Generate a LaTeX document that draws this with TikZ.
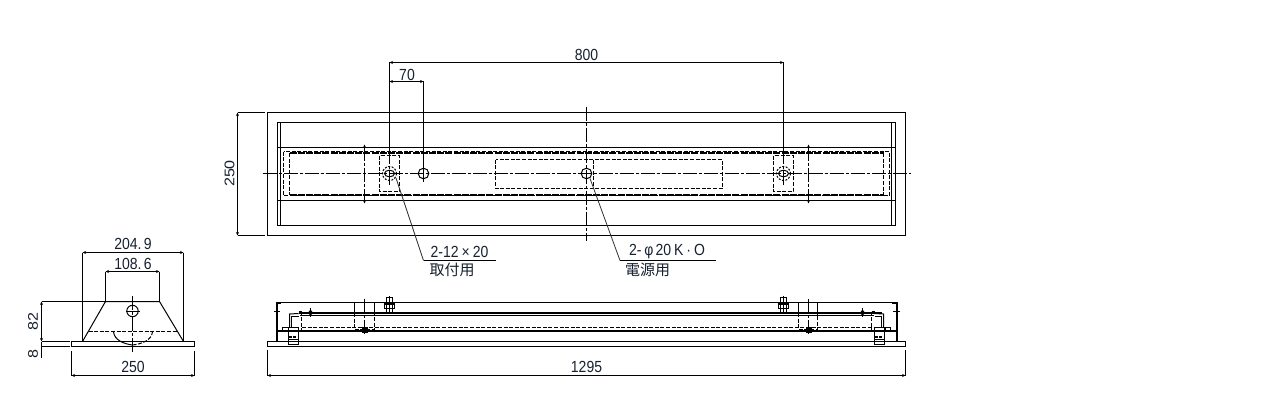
\documentclass[tikz,border=0pt]{standalone}
\usepackage{fontspec}
\setmainfont{Liberation Sans}
\newfontfamily\jpfont{Noto Sans CJK JP}
\usetikzlibrary{arrows.meta}
\definecolor{txtcol}{HTML}{16202E}
\tikzset{
  body/.style={line width=1pt},
  heavy/.style={line width=2pt},
  hidden/.style={line width=1pt,dash pattern=on 4pt off 1.6pt},
  heavyhidden/.style={line width=2pt,dash pattern=on 7pt off 1.2pt},
  center/.style={line width=1pt,dash pattern=on 14pt off 2pt on 3pt off 2pt},
  dim/.style={line width=1pt,{Stealth[length=3.5pt,width=3pt]}-{Stealth[length=3.5pt,width=3pt]}},
  ext/.style={line width=1pt},
  leader/.style={line width=0.8pt,black!80},
  label/.style={inner sep=0pt,text=txtcol,yscale=1.15,transform shape,font=\fontsize{14}{14}\selectfont},
  jplabel/.style={inner sep=0pt,text=txtcol,font=\jpfont\fontsize{15}{15}\selectfont},
}
\begin{document}
\begin{tikzpicture}[x=1pt,y=-1pt]
  \useasboundingbox (0,0) rectangle (1280,420);
  % plan view
  \draw[body] (267.5,112.5) rectangle (905.5,235.5);
  \draw[body] (277.5,122.5) rectangle (895.5,225.5);
  \draw[body] (280.5,122.5) -- (280.5,225.5);
  \draw[body] (891.5,122.5) -- (891.5,225.5);
  \draw[body] (277.5,147.5) -- (895.5,147.5);
  \draw[body] (277.5,200.5) -- (895.5,200.5);
  \draw[heavyhidden] (289.5,153) -- (883.5,153);
  \draw[heavyhidden] (289.5,195) -- (883.5,195);
  \draw[hidden] (283.5,151.5) rectangle (889.5,195.5);
  \draw[hidden] (289.5,153) -- (289.5,195);
  \draw[hidden] (883.5,153) -- (883.5,195);
  \draw[hidden] (495.5,159.5) rectangle (722.5,188.5);
  \draw[hidden] (593.5,159.5) -- (593.5,188.5);
  \draw[hidden] (379.5,155.5) rectangle (399.5,191.5);
  \draw[hidden] (773.5,155.5) rectangle (793.5,191.5);
  \draw[center] (262.5,173.5) -- (910.5,173.5);
  \draw[center] (586.5,106.5) -- (586.5,241);
  \draw[body] (423.5,173.5) circle (5.3);
  \draw[body] (586.5,173.5) circle (5.3);
  \draw[body] (389.5,173.5) ellipse (5 and 3.3);
  \draw[body] (783.5,173.5) ellipse (5 and 3.3);
  \draw[hidden,dash pattern=on 2pt off 1.5pt] (389.5,173.5) circle (7);
  \draw[hidden,dash pattern=on 2pt off 1.5pt] (783.5,173.5) circle (7);
  \draw[center,dim] (364.5,144.5) -- (364.5,203.5);
  \draw[center,dim] (808.5,144.5) -- (808.5,203.5);
  % plan view dimensions
  \draw[dim] (389.5,62.5) -- (783.5,62.5);
  \draw[ext] (389.5,62.5) -- (389.5,150);
  \draw[center] (389.5,150) -- (389.5,185);
  \draw[ext] (783.5,62.5) -- (783.5,150);
  \draw[center] (783.5,150) -- (783.5,185);
  \draw[dim] (389.5,81.5) -- (423.5,81.5);
  \draw[ext] (423.5,81.5) -- (423.5,181.5);
  \draw[dim] (237.5,112.5) -- (237.5,235.5);
  \draw[ext] (237.5,112.5) -- (264.5,112.5);
  \draw[ext] (237.5,235.5) -- (264.5,235.5);
  \node[label] (len800) at (586.5,55) {800};
  \node[label] (len70) at (407,75) {70};
  \node[inner sep=0pt,text=txtcol,rotate=90,xscale=1.15,transform shape,font=\fontsize{14}{14}\selectfont] (wid250) at (229.5,173.5) {250};
  \draw[leader] (396,178) -- (423.5,260.5);
  \draw[ext] (423.5,260.5) -- (495.5,260.5);
  \draw[leader] (590,178.5) -- (620,260.5);
  \draw[ext] (620,260.5) -- (715.5,260.5);
  \node[label] (slot) at (459.5,252) {2-12\kern3pt×\kern3pt20};
  \node[jplabel] (slotuse) at (452,270) {取付用};
  \node[label] (hole) at (667,252) {2-\kern3pt φ\kern2pt 20\kern3pt K\kern3pt ·\kern3pt O};
  \node[jplabel] (holeuse) at (647.5,270) {電源用};
  % end view
  \draw[body] (71.5,341.5) rectangle (194.5,346.5);
  \draw[body] (82.5,341.5) -- (105.5,301.5) -- (159.5,301.5) -- (183.5,341.5);
  \draw[hidden] (88.5,331.5) -- (178,331.5);
  \draw[body] (113.5,331.5) .. controls (114,340) and (124,344) .. (132.5,345);
  \draw[hidden] (132.5,345) .. controls (142,344) and (152,340) .. (152.5,331.5);
  \draw[body] (132.5,311) circle (5.7);
  \draw[center] (132.5,296) -- (132.5,352.5);
  \draw[center] (125.5,311) -- (140.5,311);
  % end view dimensions
  \draw[dim] (82.5,252.5) -- (183.5,252.5);
  \draw[ext] (82.5,252.5) -- (82.5,341.5);
  \draw[ext] (183.5,252.5) -- (183.5,341.5);
  \draw[dim] (105.5,271.5) -- (159.5,271.5);
  \draw[ext] (105.5,271.5) -- (105.5,301.5);
  \draw[ext] (159.5,271.5) -- (159.5,301.5);
  \draw[ext] (41.5,301.5) -- (105.5,301.5);
  \draw[ext] (41.5,341.5) -- (69.5,341.5);
  \draw[ext] (41.5,346.5) -- (69.5,346.5);
  \draw[dim] (41.5,301.5) -- (41.5,341.5);
  \draw[ext] (41.5,341.5) -- (41.5,358);
  \draw[dim] (71.5,375.5) -- (194.5,375.5);
  \draw[ext] (71.5,351) -- (71.5,375.5);
  \draw[ext] (194.5,351) -- (194.5,375.5);
  \node[label] (top204) at (133,243.5) {204.\,9};
  \node[label] (top108) at (133,264) {108.\,6};
  \node[inner sep=0pt,text=txtcol,rotate=90,xscale=1.15,transform shape,font=\fontsize{14}{14}\selectfont] (hgt82) at (33,321.5) {82};
  \node[inner sep=0pt,text=txtcol,rotate=90,xscale=1.15,transform shape,font=\fontsize{14}{14}\selectfont] (hgt8) at (33,354) {8};
  \node[label] (bot250) at (133,367) {250};
  % front view
  \draw[body] (267.5,341.5) rectangle (905.5,346.5);
  \draw[body] (276.5,302.5) -- (896.5,302.5);
  \draw[heavy] (281,302.5) -- (276.5,302.5) -- (276.5,341.5);
  \draw[heavy] (892,302.5) -- (896.5,302.5) -- (896.5,341.5);
  \draw[ext] (274,311.5) -- (280,311.5);
  \draw[ext] (893,311.5) -- (899.5,311.5);
  \draw[heavy] (298.5,313) -- (881.5,313);
  \draw[body] (300,315.5) -- (874,315.5);
  \draw[hidden] (302,327.5) -- (871.5,327.5);
  \draw[heavy] (277,331) -- (896,331);
  \draw[body] (282.5,327.5) rectangle (288.5,330.5);
  \draw[body] (885.5,327.5) rectangle (890.5,330.5);
  \draw[hidden] (301.5,311.5) -- (301.5,330);
  \draw[hidden] (871.5,311.5) -- (871.5,330);
  % front view clamps
  \draw[body] (288.5,327.5) rectangle (298.5,344.5);
  \draw[body] (288.5,339.5) -- (298.5,339.5);
  \draw[heavy,dash pattern=on 3pt off 1.5pt] (288.5,337) -- (298.5,337);
  \draw[body] (289.5,327.5) -- (289.5,314) -- (298.5,313.5);
  \draw[body] (291.5,327.5) -- (291.5,316) -- (298.5,316);
  \draw[heavy] (298.5,311.5) -- (301.5,311.5);
  \draw[body] (874.5,327.5) rectangle (884.5,344.5);
  \draw[body] (874.5,339.5) -- (884.5,339.5);
  \draw[heavy,dash pattern=on 3pt off 1.5pt] (874.5,337) -- (884.5,337);
  \draw[body] (883.5,327.5) -- (883.5,314) -- (874.5,313.5);
  \draw[body] (881.5,327.5) -- (881.5,316) -- (874.5,316);
  \draw[heavy] (871.5,311.5) -- (874.5,311.5);
  % front view bolts
  \draw[body] (384.5,303.5) rectangle (394.5,308.5);
  \draw[body] (386.5,297.5) rectangle (392.5,313.5);
  \draw[heavy] (383.5,303.5) -- (395,303.5);
  \draw[ext] (389.5,295.5) -- (389.5,313.5);
  \draw[body] (778.5,303.5) rectangle (788.5,308.5);
  \draw[body] (780.5,297.5) rectangle (786.5,313.5);
  \draw[heavy] (777.5,303.5) -- (789,303.5);
  \draw[ext] (783.5,295.5) -- (783.5,313.5);
  % front view brackets
  \draw[ext] (354.5,302.5) -- (354.5,313);
  \draw[ext] (374.5,302.5) -- (374.5,313);
  \draw[hidden] (354.5,313) -- (354.5,329.5) -- (374.5,329.5) -- (374.5,313);
  \draw[ext] (798.5,302.5) -- (798.5,313);
  \draw[ext] (817.5,302.5) -- (817.5,313);
  \draw[hidden] (798.5,313) -- (798.5,329.5) -- (817.5,329.5) -- (817.5,313);
  \draw[center] (364.5,298.5) -- (364.5,334.5);
  \draw[center] (808.5,298.5) -- (808.5,334.5);
  \fill (361.5,327) rectangle (367.5,333);
  \fill (805.5,327) rectangle (811.5,333);
  \draw[ext] (310.5,308) -- (310.5,316.5);
  \draw[ext] (862.5,308) -- (862.5,316.5);
  \fill (310.5,309.5) -- (313,312.7) -- (310.5,315.9) -- (308,312.7) -- cycle;
  \fill (862.5,309.5) -- (865,312.7) -- (862.5,315.9) -- (860,312.7) -- cycle;
  % front view dimension
  \draw[dim] (267.5,375.5) -- (905.5,375.5);
  \draw[ext] (267.5,350) -- (267.5,375.5);
  \draw[ext] (905.5,350) -- (905.5,375.5);
  \node[label] (len1295) at (586.5,367) {1295};
\end{tikzpicture}
\end{document}
